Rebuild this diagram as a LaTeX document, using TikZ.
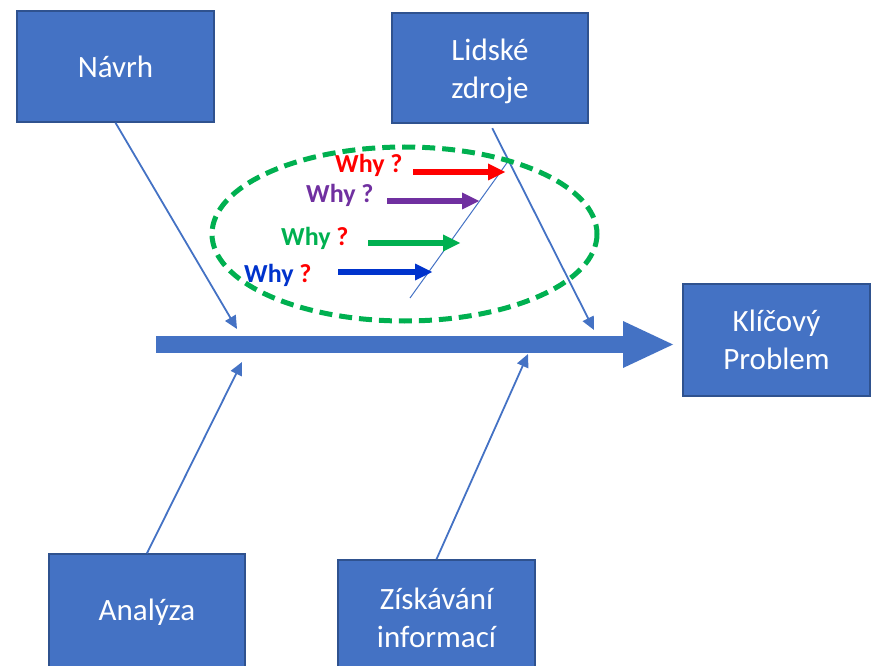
\documentclass[tikz,border=0pt]{standalone}
\usepackage{fontspec}
\setmainfont{Carlito}
\usetikzlibrary{arrows.meta}
\definecolor{boxblue}{HTML}{4472C4}
\definecolor{boxedge}{HTML}{2F528F}
\definecolor{whyred}{HTML}{FF0000}
\definecolor{whypurple}{HTML}{7030A0}
\definecolor{whygreen}{HTML}{00B050}
\definecolor{whyblue}{HTML}{0033CC}
\begin{document}
\begin{tikzpicture}[x=1pt,y=-1pt,
  causebox/.style={draw=boxedge,line width=1.5pt,fill=boxblue,text=white,
    inner sep=0pt,align=center,font=\fontsize{31}{38}\selectfont},
  bone/.style={draw=boxblue,line width=1.8pt,-{Triangle[length=13pt,width=12pt]}},
  subbone/.style={draw=boxblue,line width=1pt},
  whytext/.style={anchor=base west,inner sep=0pt,font=\bfseries\fontsize{26}{30}\selectfont},
  whyarrow/.style={line width=5.5pt,-{Triangle[length=17pt,width=17pt,line width=0pt]}},
  focus/.style={draw=whygreen,line width=5pt,dash pattern=on 13pt off 7pt}]
\useasboundingbox (0,0) rectangle (871,666);
\clip (0,0) rectangle (871,666);

% cause categories and the problem box
\node[causebox,minimum width=197pt,minimum height=111pt] (navrh) at (115.5,66.5) {Návrh};
\node[causebox,minimum width=196pt,minimum height=110pt] (lidske) at (490,68) {};
\node[align=center,text=white,inner sep=0pt,font=\fontsize{31}{38}\selectfont] (lidskeText) at (490,71) {Lidské\\zdroje};
\node[causebox,minimum width=187pt,minimum height=112pt] (problem) at (776.5,340) {Klíčový\\Problem};
\node[causebox,minimum width=196pt,minimum height=116pt] (analyza) at (147,612) {Analýza};
\node[causebox,minimum width=197pt,minimum height=116pt] (ziskavani) at (436.5,618) {Získávání\\informací};

% spine of the fishbone
\coordinate (spine) at (156,344.5);
\coordinate (tip) at (673,344.5);
\draw[draw=boxblue,line width=17pt,
  -{Triangle[width=47pt,length=50pt,line width=0pt]}] (spine) -- (tip);

% bones meeting the spine
\coordinate (navrhEnd) at (237,329);
\coordinate (lidskeEnd) at (594,330);
\coordinate (analyzaEnd) at (242,362);
\coordinate (ziskavaniEnd) at (528,354);
\draw[bone] (navrh.south) -- (navrhEnd);
\draw[bone,shorten <=5pt] (lidske.south) -- (lidskeEnd);
\draw[bone] (analyza.north) -- (analyzaEnd);
\draw[bone] (ziskavani.north) -- (ziskavaniEnd);

% sub-bone with the chain of whys
\coordinate (subLow) at (410,298);
\coordinate (subHigh) at (509,160);
\draw[subbone] (subLow) -- (subHigh);

\node[whytext,text=whyred] (whyR) at (335,173) {Why ?};
\node[whytext,text=whypurple] (whyP) at (306,203) {Why ?};
\node[whytext] (whyG) at (281,246) {\textcolor{whygreen}{Why} \textcolor{whyred}{?}};
\node[whytext] (whyB) at (244,282) {\textcolor{whyblue}{Why} \textcolor{whyred}{?}};

\coordinate (rA) at (413,172);  \coordinate (rB) at (505,172);
\coordinate (pA) at (387,201);  \coordinate (pB) at (479,201);
\coordinate (gA) at (368,243);  \coordinate (gB) at (460,243);
\coordinate (bA) at (338,272);  \coordinate (bB) at (432,272);
\draw[whyarrow,draw=whyred,fill=whyred] (rA) -- (rB);
\draw[whyarrow,draw=whypurple,fill=whypurple] (pA) -- (pB);
\draw[whyarrow,draw=whygreen,fill=whygreen] (gA) -- (gB);
\draw[whyarrow,draw=whyblue,fill=whyblue] (bA) -- (bB);

% dashed focus ring
\draw[focus] (404.5,234) ellipse [x radius=192.5, y radius=87];
\end{tikzpicture}
\end{document}
